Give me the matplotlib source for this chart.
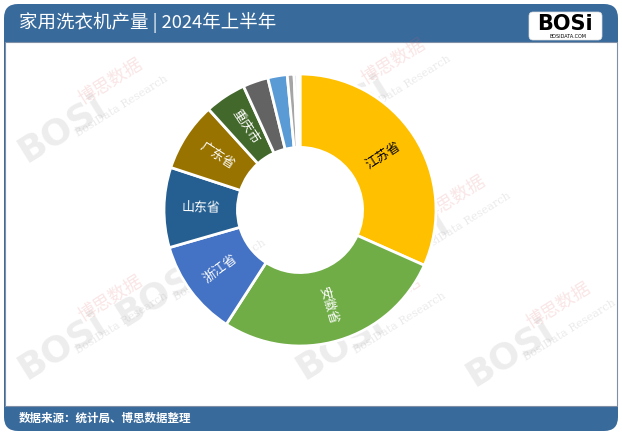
import numpy as np
import matplotlib
matplotlib.use("Agg")
import matplotlib.pyplot as plt
from matplotlib.patches import FancyBboxPatch, Rectangle

plt.rcParams['font.family'] = ['Noto Sans CJK SC', 'DejaVu Sans']

TITLE = "家用洗衣机产量 | 2024年上半年"
SOURCE = "数据来源：统计局、博思数据整理"

# share of output, clockwise from 12 o'clock (%)
provinces = ["江苏省", "安徽省", "浙江省", "山东省", "广东省", "重庆市", "", "", "", "", ""]
shares = [31.6, 27.4, 11.4, 9.5, 8.2, 4.9, 3.0, 2.3, 0.8, 0.4, 0.3]
colors = ["#FFC000", "#70AD47", "#4472C4", "#255E91", "#997300", "#43682B",
          "#636363", "#5B9BD5", "#A5A5A5", "#C9D3E6", "#F2F2F2"]
label_colors = ["black"] + ["white"] * 10

W, H = 622, 436
BAR = "#386a9c"

fig = plt.figure(figsize=(W / 100, H / 100), dpi=100)

# background frame
bg = fig.add_axes([0, 0, 1, 1])
bg.set_xlim(0, W)
bg.set_ylim(H, 0)
bg.axis("off")
bg.add_patch(FancyBboxPatch((4, 4), W - 8, 427, boxstyle="round,pad=0,rounding_size=14",
                            facecolor=BAR, edgecolor="none"))
bg.add_patch(Rectangle((5, 42), W - 10, 364, facecolor="white", edgecolor="#7f8fa6", lw=0.8))
bg.text(19, 23, TITLE, color="white", fontsize=13.3, va="center", ha="left")
bg.text(19, 418, SOURCE, color="white", fontsize=8.3, va="center", ha="left", fontweight="bold")

# logo
bg.add_patch(FancyBboxPatch((529, 12), 73, 28, boxstyle="round,pad=0,rounding_size=4",
                            facecolor="white", edgecolor="#dddddd", lw=0.5))
bg.text(565, 24, "BOSi", color="black", fontsize=15, fontweight="heavy", ha="center",
        va="center", family="DejaVu Sans")
bg.text(568, 36.5, "BOSIDATA.COM", color="black", fontsize=3.5, ha="center", va="center",
        family="DejaVu Sans")

# watermarks
marks = [(62, 128), (345, 108), (160, 292), (405, 245), (62, 345), (340, 345), (510, 352)]
for (mx, my) in marks:
    bg.text(mx, my, "BOSi", color="#9a9a9a", alpha=0.18, fontsize=26, fontweight="heavy",
            rotation=32, ha="center", va="center", family="DejaVu Sans", zorder=3)
    bg.text(mx + 48, my - 46, "博思数据", color="#e06060", alpha=0.16, fontsize=13,
            rotation=32, ha="center", va="center", zorder=3)
    bg.text(mx + 60, my - 22, "BosiData Research", color="#9a9a9a", alpha=0.2, fontsize=8,
            rotation=32, ha="center", va="center", family="DejaVu Serif", zorder=3)

# donut
cx, cy, r = 300, 210, 136
half = 140
ax = fig.add_axes([(cx - half) / W, (H - cy - half) / H, 2 * half / W, 2 * half / H])
ax.patch.set_alpha(0)

wedges, _ = ax.pie(shares, colors=colors, startangle=90, counterclock=False, radius=1,
                   wedgeprops=dict(width=0.54, edgecolor="white", linewidth=2))
ax.set_xlim(-half / r, half / r)
ax.set_ylim(-half / r, half / r)
ax.set_aspect("equal")
ax.axis("off")

total = sum(shares)
start = 90.0
for name, val, lc in zip(provinces, shares, label_colors):
    span = 360.0 * val / total
    mid = start - span / 2
    start -= span
    if not name:
        continue
    t = np.deg2rad(mid)
    rot = mid
    while rot > 90:
        rot -= 180
    while rot < -90:
        rot += 180
    ax.text(0.73 * np.cos(t), 0.73 * np.sin(t), name, color=lc, fontsize=9.3,
            rotation=rot, rotation_mode="anchor", ha="center", va="center")

fig.savefig("out.png", dpi=100)
